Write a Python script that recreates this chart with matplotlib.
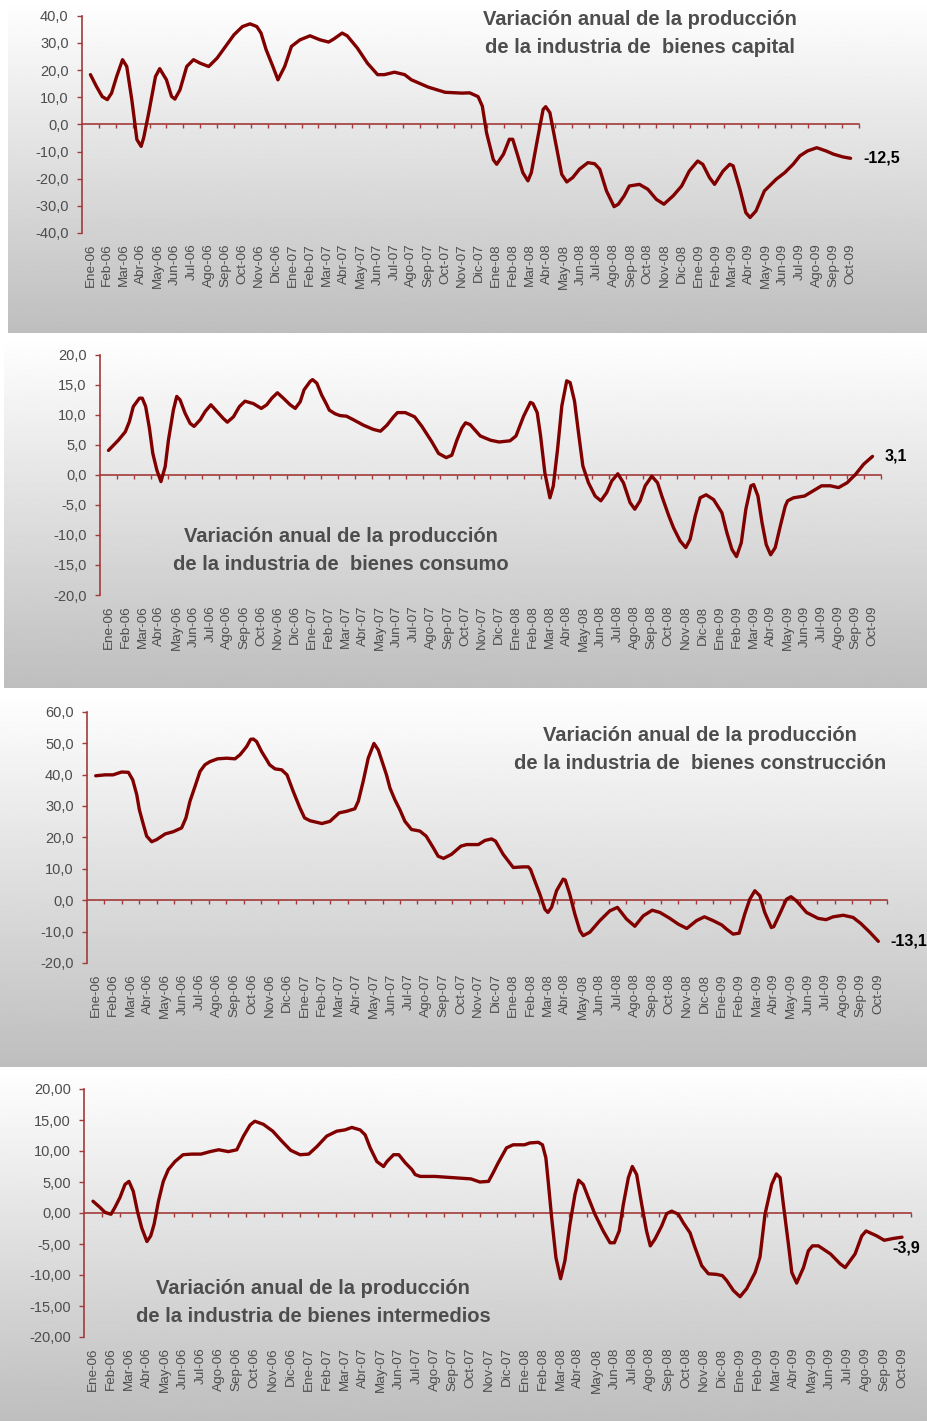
import numpy as np
import matplotlib
matplotlib.use("Agg")
import matplotlib.pyplot as plt
from matplotlib.ticker import FuncFormatter

plt.rcParams['font.family'] = ['Liberation Sans', 'DejaVu Sans']

# etiquetas del eje x: Ene-06 ... Oct-09
abrev = ['Ene', 'Feb', 'Mar', 'Abr', 'May', 'Jun', 'Jul', 'Ago', 'Sep', 'Oct', 'Nov', 'Dic']
anios = ['06', '07', '08', '09']
meses = [f'{m}-{a}' for a in anios for m in abrev][:46]

# bienes de capital (posición en meses desde Ene-06, variación %)
capital_mes = [0, 0.35, 0.7, 1.0, 1.25, 1.55, 1.9, 2.15, 2.45, 2.75,
               3.0, 3.15, 3.45, 3.85, 4.1, 4.5, 4.8, 5.0, 5.3, 5.7,
               6.1, 6.5, 7.0, 7.5, 8.0, 8.5, 9.0, 9.45, 9.85, 10.1,
               10.4, 10.8, 11.1, 11.5, 11.9, 12.4, 13.0, 13.6, 14.1, 14.4,
               14.9, 15.2, 15.8, 16.4, 17.0, 17.4, 18.0, 18.6, 19.0, 20.0,
               21.0, 22.0, 22.45, 22.95, 23.2, 23.45, 23.85, 24.05, 24.45, 24.8,
               25.0, 25.3, 25.6, 25.9, 26.1, 26.5, 26.8, 26.95, 27.2, 27.5,
               27.9, 28.2, 28.55, 28.95, 29.45, 29.85, 30.15, 30.55, 31.0, 31.25,
               31.6, 31.9, 32.5, 33.0, 33.5, 33.95, 34.5, 35.0, 35.45, 35.95,
               36.25, 36.65, 36.95, 37.45, 37.85, 38.05, 38.45, 38.8, 39.05, 39.4,
               39.9, 40.6, 41.1, 41.6, 42.0, 42.45, 43.0, 43.55, 44.0, 44.55,
               45.0]
capital_var = [18.3, 14.0, 10.2, 9.1, 11.5, 17.6, 23.8, 21.3, 9.0, -5.6,
               -8.1, -5.0, 4.2, 17.6, 20.5, 16.4, 10.3, 9.3, 12.7, 21.3,
               23.8, 22.5, 21.3, 24.4, 28.7, 33.0, 36.0, 37.0, 36.0, 33.6,
               27.5, 21.3, 16.4, 21.3, 28.7, 31.1, 32.6, 31.1, 30.3, 31.4,
               33.6, 32.6, 28.1, 22.5, 18.3, 18.3, 19.2, 18.3, 16.4, 13.7,
               11.8, 11.5, 11.6, 10.2, 6.7, -3.1, -13.0, -14.7, -11.0, -5.5,
               -5.5, -11.6, -17.8, -20.8, -17.8, -4.3, 5.5, 6.5, 4.3, -5.5,
               -18.4, -21.2, -19.6, -16.5, -14.1, -14.5, -16.5, -24.5, -30.3, -29.4,
               -26.3, -22.7, -22.1, -23.9, -27.6, -29.4, -26.3, -22.7, -17.2, -13.5,
               -14.7, -19.6, -22.1, -17.2, -14.7, -15.3, -23.9, -32.5, -34.3, -31.9,
               -24.5, -20.2, -17.8, -14.7, -11.6, -9.8, -8.6, -9.8, -11.0, -12.0,
               -12.5]

# bienes de consumo
consumo_mes = [0, 0.58, 0.99, 1.23, 1.46, 1.82, 1.99, 2.19, 2.41, 2.61,
               2.85, 3.09, 3.34, 3.53, 3.82, 4.02, 4.22, 4.51, 4.81, 5.04,
               5.4, 5.7, 6.03, 6.38, 6.77, 7.0, 7.36, 7.71, 8.04, 8.53,
               9.0, 9.32, 9.62, 9.95, 10.3, 10.7, 11.0, 11.29, 11.52, 11.88,
               12.02, 12.27, 12.56, 12.82, 13.01, 13.35, 13.64, 14.02, 14.43, 15.02,
               15.6, 16.02, 16.4, 16.79, 17.02, 17.48, 18.03, 18.46, 19.03, 19.44,
               19.89, 20.22, 20.52, 20.81, 21.03, 21.3, 21.9, 22.5, 23.0, 23.65,
               24.0, 24.45, 24.85, 25.0, 25.25, 25.45, 25.7, 26.0, 26.2, 26.45,
               26.7, 26.99, 27.19, 27.45, 27.68, 27.94, 28.27, 28.66, 29.0, 29.35,
               29.64, 30.0, 30.33, 30.72, 31.0, 31.31, 31.61, 32.0, 32.34, 32.59,
               33.0, 33.28, 33.67, 34.0, 34.26, 34.56, 34.85, 35.2, 35.64, 36.13,
               36.42, 36.72, 36.99, 37.27, 37.54, 37.84, 38.0, 38.25, 38.49, 38.74,
               39.0, 39.27, 39.57, 39.86, 40.0, 40.35, 41.0, 41.53, 42.0, 42.51,
               43.0, 43.5, 44.0, 44.48, 45.0]
consumo_var = [4.1, 5.8, 7.2, 8.9, 11.4, 12.8, 12.8, 11.4, 7.8, 3.6,
               0.8, -1.1, 1.4, 5.8, 10.8, 13.1, 12.5, 10.3, 8.6, 8.1,
               9.2, 10.6, 11.7, 10.6, 9.4, 8.8, 9.7, 11.4, 12.3, 11.9,
               11.1, 11.7, 12.8, 13.7, 12.8, 11.7, 11.1, 12.2, 14.2, 15.6,
               15.9, 15.3, 13.3, 11.9, 10.8, 10.2, 9.9, 9.8, 9.2, 8.3,
               7.6, 7.3, 8.3, 9.7, 10.4, 10.4, 9.7, 8.1, 5.6, 3.6,
               2.9, 3.3, 5.8, 7.8, 8.7, 8.4, 6.5, 5.8, 5.5, 5.7,
               6.5, 9.8, 12.1, 11.9, 10.4, 6.5, 0.4, -3.8, -1.8, 4.3,
               11.5, 15.7, 15.4, 12.3, 7.1, 1.5, -1.3, -3.5, -4.3, -2.9,
               -1.0, 0.2, -1.3, -4.6, -5.7, -4.3, -1.8, -0.2, -1.3, -3.5,
               -6.8, -8.8, -11.0, -12.1, -10.7, -6.8, -3.8, -3.3, -4.1, -6.3,
               -9.6, -12.4, -13.6, -11.3, -5.7, -1.8, -1.6, -3.5, -7.9, -11.6,
               -13.3, -12.1, -8.5, -5.2, -4.3, -3.8, -3.5, -2.6, -1.8, -1.8,
               -2.1, -1.3, 0.1, 1.8, 3.1]

# bienes de construcción
construccion_mes = [0, 0.54, 1.0, 1.49, 1.88, 2.13, 2.36, 2.51, 2.74, 2.93,
                    3.22, 3.51, 4.0, 4.46, 4.94, 5.19, 5.42, 5.71, 6.0, 6.28,
                    6.57, 7.01, 7.53, 8.01, 8.3, 8.68, 8.91, 9.06, 9.25, 9.54,
                    9.83, 10.0, 10.31, 10.69, 11.0, 11.36, 11.74, 12.01, 12.32, 13.01,
                    13.47, 14.0, 14.43, 14.9, 15.1, 15.38, 15.67, 16.0, 16.25, 16.53,
                    16.72, 16.92, 17.2, 17.49, 17.78, 18.16, 18.64, 19.0, 19.41, 19.69,
                    20.0, 20.46, 21.0, 21.33, 22.0, 22.38, 22.76, 22.99, 23.43, 24.01,
                    24.58, 24.87, 25.0, 25.25, 25.54, 25.83, 26.0, 26.21, 26.5, 26.88,
                    27.0, 27.26, 27.55, 27.84, 28.03, 28.41, 28.99, 29.56, 30.0, 30.52,
                    31.0, 31.48, 32.0, 32.44, 32.99, 33.49, 33.99, 34.55, 35.0, 35.5,
                    36.0, 36.27, 36.65, 37.0, 37.32, 37.61, 37.9, 38.19, 38.47, 38.85,
                    38.99, 39.33, 39.72, 39.98, 40.29, 40.87, 41.54, 42.0, 42.4, 42.99,
                    43.55, 43.99, 44.51, 45.0]
construccion_var = [39.6, 39.9, 39.9, 40.8, 40.7, 38.3, 33.6, 28.8, 24.1, 20.4,
                    18.6, 19.3, 21.1, 21.8, 23.0, 26.2, 31.5, 36.2, 41.0, 43.1,
                    44.1, 45.0, 45.2, 45.0, 46.3, 48.9, 51.2, 51.3, 50.5, 47.3,
                    44.7, 43.1, 41.8, 41.5, 39.9, 34.6, 29.4, 26.2, 25.3, 24.4,
                    25.1, 27.8, 28.3, 29.1, 31.5, 37.8, 45.2, 49.9, 47.8, 43.1,
                    39.9, 35.7, 32.0, 28.8, 25.1, 22.5, 22.0, 20.4, 16.7, 14.0,
                    13.3, 14.6, 17.2, 17.7, 17.7, 19.0, 19.5, 18.8, 14.6, 10.4,
                    10.6, 10.6, 9.8, 6.1, 1.9, -2.9, -3.9, -2.3, 3.0, 6.7,
                    6.4, 1.9, -4.4, -9.7, -11.3, -10.2, -6.5, -3.4, -2.3, -6.0,
                    -8.3, -5.0, -3.2, -3.9, -5.7, -7.6, -9.0, -6.5, -5.3, -6.5,
                    -7.9, -9.2, -10.8, -10.5, -4.4, 0.3, 3.0, 1.4, -3.9, -8.7,
                    -8.4, -4.4, 0.3, 1.1, -0.2, -3.9, -5.8, -6.2, -5.3, -4.8,
                    -5.5, -7.4, -10.2, -13.1]

# bienes intermedios
intermedios_mes = [0, 0.39, 0.67, 1.0, 1.22, 1.5, 1.78, 2.0, 2.24, 2.47,
                   2.71, 3.0, 3.21, 3.4, 3.64, 3.91, 4.19, 4.56, 5.01, 5.49,
                   6.01, 6.51, 6.99, 7.53, 8.0, 8.37, 8.74, 9.0, 9.48, 10.0,
                   10.5, 11.0, 11.52, 12.0, 12.45, 13.0, 13.56, 14.01, 14.4, 14.86,
                   15.14, 15.42, 15.79, 16.16, 16.35, 16.72, 17.01, 17.37, 17.74, 17.92,
                   18.2, 19.02, 20.02, 21.02, 21.52, 22.0, 22.26, 22.54, 23.0, 23.37,
                   24.0, 24.3, 24.77, 25.0, 25.19, 25.32, 25.51, 25.75, 26.01, 26.25,
                   26.53, 26.81, 27.01, 27.27, 27.55, 27.92, 28.38, 28.76, 29.0, 29.27,
                   29.5, 29.78, 30.0, 30.24, 30.52, 30.79, 31.0, 31.26, 31.63, 31.91,
                   32.19, 32.56, 32.84, 33.21, 33.49, 33.86, 34.23, 34.69, 35.01, 35.25,
                   35.62, 35.99, 36.36, 36.83, 37.1, 37.38, 37.75, 38.01, 38.22, 38.4,
                   38.68, 38.87, 39.14, 39.52, 39.79, 40.02, 40.35, 41.02, 41.56, 41.84,
                   42.39, 42.76, 43.0, 43.6, 44.01, 44.53, 45.0]
intermedios_var = [1.9, 0.9, 0.1, -0.2, 0.9, 2.5, 4.6, 5.1, 3.5, 0.3,
                   -2.4, -4.6, -3.7, -1.8, 1.9, 5.1, 7.0, 8.3, 9.4, 9.5,
                   9.5, 9.9, 10.2, 9.9, 10.2, 12.4, 14.2, 14.8, 14.3, 13.2,
                   11.6, 10.1, 9.4, 9.5, 10.7, 12.4, 13.2, 13.4, 13.8, 13.4,
                   12.6, 10.5, 8.3, 7.5, 8.3, 9.4, 9.4, 8.1, 7.0, 6.2,
                   5.9, 5.9, 5.7, 5.5, 5.0, 5.1, 6.5, 8.1, 10.5, 11.0,
                   11.0, 11.3, 11.4, 11.0, 8.9, 5.1, -0.7, -7.2, -10.6, -7.7,
                   -1.8, 3.0, 5.3, 4.6, 2.5, -0.2, -2.9, -4.8, -4.8, -2.9,
                   1.4, 5.7, 7.5, 6.2, 1.4, -2.9, -5.3, -4.2, -2.1, -0.1,
                   0.3, -0.2, -1.6, -3.2, -5.6, -8.5, -9.8, -9.9, -10.1, -10.9,
                   -12.5, -13.5, -12.2, -9.6, -7.1, -0.2, 4.6, 6.3, 5.7, 1.4,
                   -5.0, -9.6, -11.3, -8.8, -6.1, -5.3, -5.3, -6.6, -8.2, -8.8,
                   -6.6, -3.7, -2.9, -3.7, -4.4, -4.1, -3.9]

titulos = ['Variación anual de la producción\nde la industria de  bienes capital',
           'Variación anual de la producción\nde la industria de  bienes consumo',
           'Variación anual de la producción\nde la industria de  bienes construcción',
           'Variación anual de la producción\nde la industria de bienes intermedios']
etiquetas_fin = ['-12,5', '3,1', '-13,1', '-3,9']

W, H = 928, 1421
rojo = '#800000'
rojo_eje = '#a33a3a'
gris = '#4d4d4d'

fig = plt.figure(figsize=(W / 100, H / 100), dpi=100)


def caja(x0, y0, x1, y1):
    return fig.add_axes([x0 / W, 1 - y1 / H, (x1 - x0) / W, (y1 - y0) / H])


def fondo(x0, y0, x1, y1):
    ax = caja(x0, y0, x1, y1)
    grad = np.linspace(0, 1, 256).reshape(-1, 1)
    ax.imshow(1 - 0.255 * grad, cmap='gray', vmin=0, vmax=1, aspect='auto',
              extent=[0, 1, 0, 1])
    ax.axis('off')


def panel(pos, mes, var, ylim, paso, dec, titulo, tit_xy, etiqueta, offset):
    ax = caja(*pos)
    ax.set_facecolor('none')
    ax.plot(mes, var, color=rojo, lw=2.4, solid_joinstyle='round',
            solid_capstyle='round', zorder=3)
    ax.set_xlim(-0.5, 45.5)
    ax.set_ylim(*ylim)
    ax.set_yticks(np.arange(ylim[0], ylim[1] + paso / 2, paso))
    ax.yaxis.set_major_formatter(
        FuncFormatter(lambda v, p: f'{v:.{dec}f}'.replace('.', ',')))
    ax.set_xticks(range(len(meses)))
    ax.set_xticklabels(meses, rotation=90)
    ax.tick_params(axis='x', length=0, pad=7.5, labelsize=9.7, labelcolor=gris)
    ax.tick_params(axis='y', length=3.6, width=1, color=rojo_eje,
                   labelsize=10.5, labelcolor=gris, pad=6)
    for s in ['top', 'right', 'bottom']:
        ax.spines[s].set_visible(False)
    ax.spines['left'].set_color(rojo_eje)
    ax.spines['left'].set_linewidth(1.2)

    # línea del cero con marcas entre meses
    cero = -ylim[0] / (ylim[1] - ylim[0])
    sec = ax.secondary_xaxis(cero)
    sec.set_alignment('bottom')
    sec.set_xticks(np.arange(0.5, 46, 1))
    sec.tick_params(axis='x', length=3, width=1, color=rojo_eje, labelbottom=False)
    sec.spines['bottom'].set_color(rojo_eje)
    sec.spines['bottom'].set_linewidth(1.2)

    ax.annotate(etiqueta, xy=(mes[-1], var[-1]), xytext=offset,
                textcoords='offset points', ha='left', va='center',
                fontsize=11.5, fontweight='bold', color='black')
    fig.text(tit_xy[0] / W, 1 - tit_xy[1] / H, titulo, ha='center', va='center',
             fontsize=14.5, fontweight='bold', color=gris, linespacing=1.6)


fondo(8, 0, 928, 333)
fondo(4, 337, 928, 688)
fondo(0, 692, 928, 1067)
fondo(0, 1068, 928, 1421)

panel((82, 15.7, 859, 233), capital_mes, capital_var, (-40, 40), 10, 1,
      titulos[0], (640, 33.5), etiquetas_fin[0], (9, 0))
panel((100, 355, 881, 595), consumo_mes, consumo_var, (-20, 20), 5, 1,
      titulos[1], (341, 551), etiquetas_fin[1], (8.5, 0))
panel((87, 711.7, 887, 963), construccion_mes, construccion_var, (-20, 60), 10, 1,
      titulos[2], (700, 750), etiquetas_fin[2], (9, 0))
panel((84, 1089, 911, 1337), intermedios_mes, intermedios_var, (-20, 20), 5, 2,
      titulos[3], (313, 1302), etiquetas_fin[3], (-7, -8))

fig.savefig('out.png', dpi=100)
